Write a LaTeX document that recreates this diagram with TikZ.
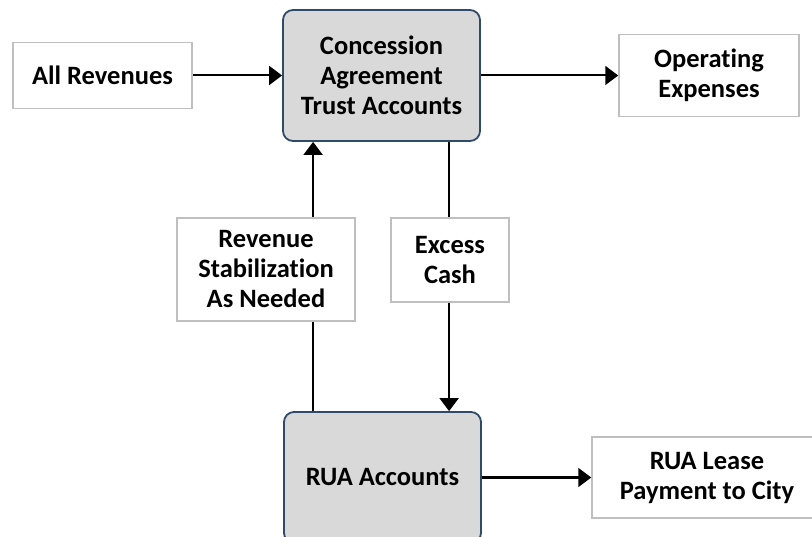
\documentclass[tikz,border=0pt]{standalone}
\usepackage{fontspec}
\setmainfont{Carlito}[Ligatures=NoCommon]
\usetikzlibrary{arrows.meta,calc}
\definecolor{boxgray}{HTML}{D9D9D9}
\definecolor{boxblue}{HTML}{2F4B69}
\definecolor{lightborder}{HTML}{BFBFBF}
\begin{document}
\begin{tikzpicture}[x=1pt,y=-1pt,
  lbl/.style={draw=lightborder,line width=1.5pt,fill=white,align=center,inner sep=0pt,
    font=\fontsize{26.5}{30}\selectfont\bfseries},
  acct/.style={draw=boxblue,line width=1.8pt,fill=boxgray,rounded corners=10pt,align=center,inner sep=0pt,
    minimum width=197pt,minimum height=131pt,font=\fontsize{26.5}{30}\selectfont\bfseries},
  arr/.style={line width=2pt,-{Triangle[length=13pt,width=19pt]}},
  ln/.style={line width=2pt}]
\useasboundingbox (0,0) rectangle (812,537);
\node[acct] (cat) at (381.5,75.5) {Concession\\Agreement\\Trust Accounts};
\node[acct] (rua) at (382.5,477.5) {RUA Accounts};
\node[lbl,minimum width=179pt,minimum height=66pt] (rev) at (102.5,75.5) {All Revenues};
\node[lbl,minimum width=180pt,minimum height=82pt] (opx) at (709,75.5) {Operating\\Expenses};
\node[lbl,minimum width=178pt,minimum height=103pt] (rs) at (266,269.5) {Revenue\\Stabilization\\As Needed};
\node[lbl,minimum width=118pt,minimum height=84pt] (ec) at (450,260) {Excess\\Cash};
\node[lbl,minimum width=230pt,minimum height=81pt] (lease) at (707,477.5) {RUA Lease\\Payment to City};
\coordinate (lx) at ([xshift=30pt]rua.north west);
\coordinate (rx) at ([xshift=166pt]rua.north west);
\draw[arr] (rev.east) -- (cat.west);
\draw[arr] (cat.east) -- (opx.west);
\draw[ln] (lx) -- (lx |- rs.south);
\draw[arr] (lx |- rs.north) -- (lx |- cat.south);
\draw[ln] (rx |- cat.south) -- (rx |- ec.north);
\draw[arr] (rx |- ec.south) -- (rx);
\draw[arr] (rua.east) -- (lease.west);
\end{tikzpicture}
\end{document}
